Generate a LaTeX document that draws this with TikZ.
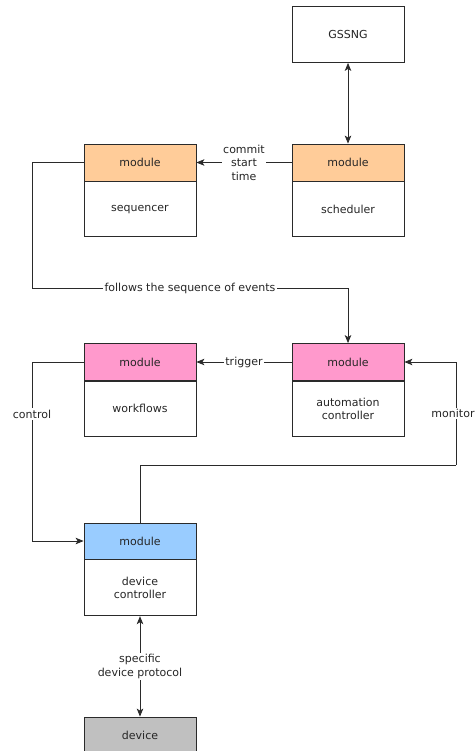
\documentclass[tikz,border=0pt]{standalone}
\usepackage{fontspec}
\setmainfont{DejaVu Sans}
\usetikzlibrary{arrows.meta}
\definecolor{hdrorange}{HTML}{FFCC99}
\definecolor{hdrpink}{HTML}{FF99CC}
\definecolor{hdrblue}{HTML}{99CCFF}
\definecolor{devgray}{HTML}{C0C0C0}
\definecolor{linec}{HTML}{2A2A2A}
\definecolor{textc}{HTML}{262626}
\begin{document}
\begin{tikzpicture}[x=1pt,y=-1pt,
  box/.style={draw=linec, line width=0.8pt, minimum width=112pt, inner sep=0pt,
    font=\fontsize{11}{13.5}\selectfont, text=textc, align=center},
  hdr/.style={box, minimum height=37pt},
  bodybox/.style={box, minimum height=55pt, fill=white},
  conn/.style={draw=linec, line width=0.8pt},
  tip/.style={-{Stealth[length=8pt,width=6.5pt,inset=2pt]}},
  btip/.style={{Stealth[length=8pt,width=6.5pt,inset=2pt]}-{Stealth[length=8pt,width=6.5pt,inset=2pt]}},
  lbl/.style={fill=white, inner sep=1.5pt, font=\fontsize{11}{13.5}\selectfont, text=textc, align=center}]
\useasboundingbox (0,0) rectangle (475,751);
% boxes
\node[box, minimum height=56pt, fill=white] (gss) at (348,34.5) {GSSNG};
\node[hdr, fill=hdrorange] (seqH) at (140,162.5) {module};
\node[bodybox, anchor=north] (seqB) at (seqH.south) {sequencer};
\node[hdr, fill=hdrorange] (schH) at (348,162.5) {module};
\node[bodybox, anchor=north] (schB) at (schH.south) {scheduler};
\node[hdr, fill=hdrpink] (wfH) at (140,362) {module};
\node[bodybox, anchor=north] (wfB) at (wfH.south) {workflows};
\node[hdr, fill=hdrpink] (autH) at (348,362) {module};
\node[bodybox, anchor=north] (autB) at (autH.south) {automation\\controller};
\node[hdr, minimum height=36pt, fill=hdrblue] (dcH) at (140,541) {module};
\node[bodybox, minimum height=56pt, anchor=north] (dcB) at (dcH.south) {device\\controller};
\node[box, minimum height=56pt, fill=devgray] (dev) at (140,745) {};
\node[font=\fontsize{11}{13.5}\selectfont, text=textc] (devt) at (140,735) {device};
% coordinates
\coordinate (c1) at (32,288);
\coordinate (c2) at (32,541);
\coordinate (c3) at (456,465);
% connectors
\draw[conn, btip] (gss.south) -- (schH.north);
\draw[conn, tip] (schH.west) -- node[lbl] {commit\\start\\time} (seqH.east);
\draw[conn] (seqH.west) -| (c1);
\draw[conn, tip] (c1) -| node[lbl, pos=0.25] {follows the sequence of events} (autH.north);
\draw[conn, tip] (autH.west) -- node[lbl] {trigger} (wfH.east);
\draw[conn] (wfH.west) -| node[lbl, pos=0.645] {control} (c2);
\draw[conn, tip] (c2) -- (dcH.west);
\draw[conn] (dcH.north) |- (c3);
\draw[conn, tip] (c3) |- node[lbl, pos=0.25, xshift=-3pt] {monitor} (autH.east);
\draw[conn, btip] (dcB.south) -- node[lbl] {specific\\device protocol} (dev.north);
\end{tikzpicture}
\end{document}
